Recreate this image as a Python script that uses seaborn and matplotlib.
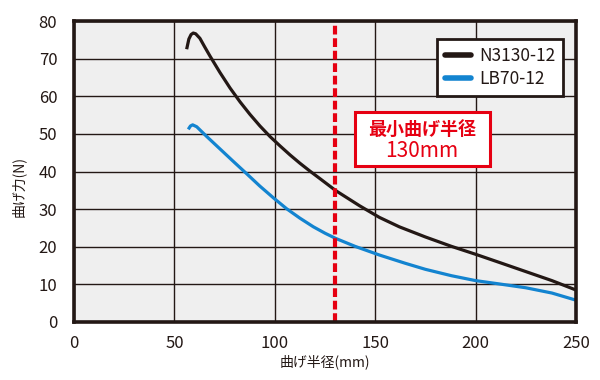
import matplotlib
matplotlib.use("Agg")
import matplotlib.pyplot as plt
import seaborn as sns
import pandas as pd
from matplotlib.patches import Rectangle
from matplotlib.lines import Line2D

# ---- data ----
n3130_x = [56.1, 57.2, 58.3, 59.4, 60.6, 62.7, 65.0, 67.7, 72.7, 77.7, 82.7, 87.6, 92.6, 97.6,
           102.6, 107.6, 112.5, 117.5, 122.5, 130.4, 142.2, 152.1, 162, 175, 188, 200, 212,
           225, 238, 250]
n3130_y = [72.5, 75.2, 76.4, 76.8, 76.6, 75.4, 73.2, 70.7, 66.3, 62.2, 58.5, 55.2, 52.1, 49.3,
           46.8, 44.4, 42.2, 40.1, 38.1, 34.9, 30.9, 27.8, 25.3, 22.6, 20.1, 18.0, 15.8,
           13.4, 11.0, 8.5]
lb70_x = [56.9, 58.0, 59.1, 61.1, 66.1, 72.7, 79.3, 86.0, 92.6, 99.3, 105.9, 112.5, 119.2,
          125, 130.4, 140, 152.1, 165, 175, 188, 200, 212, 225, 238, 250]
lb70_y = [51.2, 52.1, 52.4, 51.9, 49.3, 46.0, 42.7, 39.4, 36.1, 33.0, 30.1, 27.6, 25.3,
          23.6, 22.2, 20.1, 17.8, 15.6, 14.0, 12.3, 11.0, 10.1, 9.1, 7.7, 5.8]
series_names = ["N3130-12", "LB70-12"]
min_radius = 130
box_lines = ["最小曲げ半径", "130mm"]
x_ticks = [0, 50, 100, 150, 200, 250]
y_ticks = [0, 10, 20, 30, 40, 50, 60, 70, 80]
x_label = "曲げ半径(mm)"
y_label = "曲げ力(N)"

df = pd.concat([
    pd.DataFrame({"x": n3130_x, "y": n3130_y, "s": series_names[0]}),
    pd.DataFrame({"x": lb70_x, "y": lb70_y, "s": series_names[1]}),
])

sns.set_style("white")
plt.rcParams["font.family"] = ["Noto Sans CJK JP", "DejaVu Sans"]

dark = "#231815"
red = "#e60012"
blue = "#1384d0"

fig = plt.figure(figsize=(6, 3.8), dpi=100)
ax = fig.add_axes([74 / 600, 58 / 380, 502 / 600, 301 / 380])
ax.set_facecolor("#efefef")

sns.lineplot(data=df, x="x", y="y", hue="s", palette=[dark, blue], sort=False,
             estimator=None, linewidth=2.3, ax=ax, legend=False, zorder=3,
             solid_joinstyle="round", solid_capstyle="butt")

ax.axvline(min_radius, color=red, linewidth=3, dashes=(2.1, 0.9), zorder=4)

ax.set_xlim(0, 250)
ax.set_ylim(0, 80)
ax.set_xticks(x_ticks)
ax.set_yticks(y_ticks)
ax.grid(True, color=dark, linewidth=1.0)
ax.set_axisbelow(True)
for sp in ax.spines.values():
    sp.set_visible(True)
    sp.set_color(dark)
    sp.set_linewidth(2.6)
    sp.set_zorder(5)
ax.tick_params(axis="both", length=0, labelsize=12, colors=dark)
ax.tick_params(axis="y", pad=12)
ax.tick_params(axis="x", pad=9)
ax.set_xlabel(x_label, fontsize=10, color=dark, labelpad=2)
ax.set_ylabel(y_label, fontsize=10, color=dark)
ax.yaxis.set_label_coords(-0.095, 0.45)

# legend
handles = [Line2D([], [], color=dark, linewidth=4), Line2D([], [], color=blue, linewidth=4)]
leg = ax.legend(handles, series_names, loc="upper right", bbox_to_anchor=(0.975, 0.94),
                fontsize=12.5, frameon=True, fancybox=False, handlelength=1.5,
                handletextpad=0.5, borderpad=0.45, labelspacing=0.3, borderaxespad=0)
leg.get_frame().set_edgecolor(dark)
leg.get_frame().set_linewidth(2)
leg.get_frame().set_facecolor("white")
leg.get_frame().set_alpha(1)
for t in leg.get_texts():
    t.set_color(dark)
leg.set_zorder(6)

# annotation box
ax.add_patch(Rectangle((140, 41.5), 67, 14.3, facecolor="white", edgecolor=red,
                       linewidth=2.2, zorder=6))
ax.text(173.2, 51.1, box_lines[0], color=red, fontsize=13, fontweight="bold",
        ha="center", va="center", zorder=7)
ax.text(173.2, 45.4, box_lines[1], color=red, fontsize=15,
        ha="center", va="center", zorder=7)

fig.savefig("out.png", dpi=100)
